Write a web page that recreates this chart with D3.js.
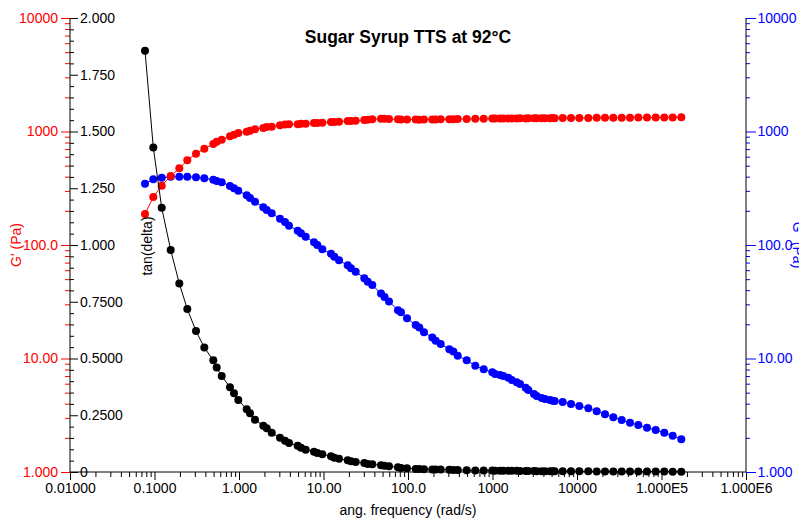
<!DOCTYPE html>
<meta charset="utf-8">
<script src="https://d3js.org/d3.v7.min.js"></script>
<style>
  body { margin: 0; background: #fff; }
  text { font-family: "Liberation Sans", Arial, sans-serif; }
</style>
<body>
<script>
// Chart data
const freq = [0.0772, 0.0968, 0.1217, 0.1555, 0.1966, 0.2444, 0.3098, 0.3885,
  0.4965, 0.5446, 0.6242, 0.7823, 0.8727, 0.981, 1.233, 1.350, 1.546,
  1.939, 2.127, 2.438, 3.057, 3.503, 3.906, 4.952, 5.416, 6.157,
  7.72, 8.447, 9.68, 12.27, 13.42, 15.26, 19.34, 21.16, 24.05,
  30.40, 33.36, 37.80, 47.92, 52.72, 59.60, 76.12, 82.65, 97.3,
  123.3, 136.1, 154.6, 193.9, 212.7, 243.8, 308.2, 343.7, 387.5,
  495.2, 625.9, 786.9, 994.5, 1071, 1227, 1342, 1538, 1687, 1934,
  2116, 2472, 2653, 3098, 3336, 3821, 4182, 4792, 5158, 5447,
  6773, 8492, 10650, 13610, 17110, 21450, 26900, 33810, 42390,
  53140, 67350, 85390, 107900, 135700, 171500];

// G' (Pa)
const gPrime = [187.5, 264.8, 333, 405.5, 474, 557.6, 637.5, 705.5,
  776, 813, 847, 907, 937, 970, 996, 1016, 1046,
  1074, 1095, 1102, 1134, 1152, 1157, 1160, 1168, 1170,
  1188, 1190, 1195, 1213, 1215, 1220, 1237, 1240, 1245,
  1263, 1270, 1281, 1298, 1292, 1289, 1280, 1278, 1276,
  1275, 1272, 1276, 1278, 1275, 1280, 1282, 1280, 1286,
  1290, 1295, 1298, 1300, 1302, 1300, 1304, 1302, 1305, 1303,
  1306, 1305, 1308, 1306, 1310, 1308, 1310, 1309, 1312, 1311,
  1314, 1316, 1317, 1318, 1320, 1321, 1322, 1323, 1325,
  1326, 1327, 1328, 1330, 1331, 1334];

// G'' (Pa)
const gDouble = [346.7, 379, 391.7, 399.7, 399.7, 399.7, 394.9, 387,
  376, 366.4, 356.9, 331, 316, 300.9, 274.1, 259.5, 240.7,
  214.9, 203.4, 190.3, 170.5, 159.4, 147.9, 133.7, 126.8, 118.4,
  105.6, 100, 91.6, 83.8, 78.9, 73.3, 66.2, 62.3, 58.2,
  50.9, 47.5, 44.4, 37.4, 34.8, 31.8, 26.6, 25.5, 22.6,
  19.7, 18.8, 17.0, 15.3, 14.35, 13.4, 12.05, 11.5, 10.6,
  9.64, 8.64, 8.03, 7.56, 7.30, 7.15, 7.01, 6.77, 6.47, 6.17,
  5.96, 5.53, 5.28, 4.87, 4.67, 4.49, 4.40, 4.31, 4.25, 4.22,
  4.14, 3.97, 3.82, 3.64, 3.43, 3.22, 3.03, 2.87, 2.72,
  2.59, 2.46, 2.34, 2.22, 2.09, 1.94];

// tan(delta)
const tanDelta = [1.856, 1.429, 1.164, 0.978, 0.830, 0.718, 0.621, 0.548,
  0.492, 0.460, 0.423, 0.373, 0.347, 0.317, 0.276, 0.259, 0.230,
  0.204, 0.193, 0.173, 0.151, 0.138, 0.128, 0.116, 0.107, 0.098,
  0.0894, 0.0837, 0.078, 0.0692, 0.063, 0.0586, 0.0515, 0.0471, 0.044,
  0.0396, 0.0352, 0.0339, 0.0295, 0.0278, 0.0251, 0.0207, 0.0176, 0.0163,
  0.0132, 0.0128, 0.0121, 0.0115, 0.0110, 0.0105, 0.0097, 0.0093, 0.0088,
  0.0079, 0.0071, 0.0066, 0.0062, 0.0060, 0.0058, 0.0057, 0.0055, 0.0052, 0.0050,
  0.0048, 0.0045, 0.0043, 0.0040, 0.0038, 0.0036, 0.0035, 0.0034, 0.0033, 0.0033,
  0.0032, 0.0031, 0.0030, 0.0028, 0.0026, 0.0025, 0.0023, 0.0022, 0.0021,
  0.0020, 0.0019, 0.0018, 0.0017, 0.0016, 0.0015];

// Tick values and their labels
const xTicks = [0.01, 0.1, 1, 10, 100, 1000, 10000, 1e5, 1e6];
const xTickLabels = ["0.01000", "0.1000", "1.000", "10.00", "100.0", "1000", "10000", "1.000E5", "1.000E6"];
const gTicks = [1, 10, 100, 1000, 10000];
const gTickLabels = ["1.000", "10.00", "100.0", "1000", "10000"];
const tanTicks = [0, 0.25, 0.5, 0.75, 1, 1.25, 1.5, 1.75, 2];
const tanTickLabels = ["0", "0.2500", "0.5000", "0.7500", "1.000", "1.250", "1.500", "1.750", "2.000"];

const margin = {top: 18, right: 53, bottom: 48, left: 70},
      width = 799 - margin.left - margin.right,
      height = 520 - margin.top - margin.bottom;

const svg = d3.select("body")
  .append("svg")
  .attr("width", 799)
  .attr("height", 520)
  .append("g")
  .attr("transform", `translate(${margin.left}, ${margin.top})`);

// Scales
const x = d3.scaleLog().domain([0.01, 1e6]).range([0, width]);
const yG = d3.scaleLog().domain([1, 10000]).range([height, 0]);
const yT = d3.scaleLinear().domain([0, 2]).range([height, 0]);

// minor tick positions for log axes (2..9 in each decade)
function logMinors(lo, hi) {
  let out = [];
  for (let e = lo; e < hi; e++)
    for (let k = 2; k <= 9; k++) out.push(k * Math.pow(10, e));
  return out;
}
const tanMinors = d3.range(0, 2.0001, 0.05).filter(v => Math.abs(v / 0.25 - Math.round(v / 0.25)) > 1e-6);

function styleAxis(g, color) {
  g.select(".domain").remove();
  g.attr("color", color).attr("font-size", 14).attr("font-family", null);
}

// bottom axis
svg.append("g").attr("transform", `translate(0,${height})`)
  .call(d3.axisBottom(x).tickValues(logMinors(-2, 6)).tickSize(5).tickFormat(""))
  .call(g => styleAxis(g, "#000"));
svg.append("g").attr("transform", `translate(0,${height})`)
  .call(d3.axisBottom(x).tickValues(xTicks).tickSize(8).tickPadding(3).tickFormat((d, i) => xTickLabels[i]))
  .call(g => styleAxis(g, "#000"));

// left G' axis (red)
svg.append("g")
  .call(d3.axisLeft(yG).tickValues(logMinors(0, 4)).tickSize(5).tickFormat(""))
  .call(g => styleAxis(g, "#ff0000"));
svg.append("g")
  .call(d3.axisLeft(yG).tickValues(gTicks).tickSize(9).tickPadding(3).tickFormat((d, i) => gTickLabels[i]))
  .call(g => styleAxis(g, "#ff0000"));

// tan(delta) axis on the inside of the left axis
svg.append("g")
  .call(d3.axisRight(yT).tickValues(tanMinors).tickSize(4).tickFormat(""))
  .call(g => styleAxis(g, "#000"));
svg.append("g")
  .call(d3.axisRight(yT).tickValues(tanTicks).tickSize(8).tickPadding(2).tickFormat((d, i) => tanTickLabels[i]))
  .call(g => styleAxis(g, "#000"));

// right G'' axis (blue)
svg.append("g").attr("transform", `translate(${width},0)`)
  .call(d3.axisRight(yG).tickValues(logMinors(0, 4)).tickSize(4).tickFormat(""))
  .call(g => styleAxis(g, "#0000ff"));
svg.append("g").attr("transform", `translate(${width},0)`)
  .call(d3.axisRight(yG).tickValues(gTicks).tickSize(10).tickPadding(1.5).tickFormat((d, i) => gTickLabels[i]))
  .call(g => styleAxis(g, "#0000ff"));

// axis lines
svg.append("line").attr("x1", 0).attr("x2", 0).attr("y1", 0).attr("y2", height).attr("stroke", "#000");
svg.append("line").attr("x1", width).attr("x2", width).attr("y1", 0).attr("y2", height).attr("stroke", "#000");
svg.append("line").attr("x1", 0).attr("x2", width).attr("y1", height).attr("y2", height).attr("stroke", "#000");

// series
const series = [
  {values: gDouble, scale: yG, color: "#0000ff"},
  {values: gPrime, scale: yG, color: "#ff0000"},
  {values: tanDelta, scale: yT, color: "#000000"}
];

series.forEach(s => {
  const pts = freq.map((f, i) => [f, s.values[i]]);
  const line = d3.line().x(d => x(d[0])).y(d => s.scale(d[1]));
  svg.append("path")
    .datum(pts)
    .attr("fill", "none")
    .attr("stroke", s.color)
    .attr("stroke-width", 1)
    .attr("d", line);
  svg.append("g").selectAll("circle")
    .data(pts)
    .enter()
    .append("circle")
    .attr("cx", d => x(d[0]))
    .attr("cy", d => s.scale(d[1]))
    .attr("r", 4)
    .attr("fill", s.color);
});

// title and axis labels
svg.append("text")
  .attr("x", width / 2).attr("y", 25)
  .attr("text-anchor", "middle")
  .attr("font-size", 17.5).attr("font-weight", "bold")
  .text("Sugar Syrup TTS at 92°C");

svg.append("text")
  .attr("x", width / 2).attr("y", height + 43)
  .attr("text-anchor", "middle")
  .attr("font-size", 14)
  .text("ang. frequency (rad/s)");

svg.append("text")
  .attr("transform", `translate(${21 - margin.left}, ${height / 2}) rotate(-90)`)
  .attr("text-anchor", "middle")
  .attr("font-size", 14)
  .attr("fill", "#ff0000")
  .text("G' (Pa)");

svg.append("text")
  .attr("transform", `translate(${152 - margin.left}, ${246 - margin.top}) rotate(-90)`)
  .attr("text-anchor", "middle")
  .attr("font-size", 14)
  .attr("fill", "#000")
  .text("tan(delta)");

// right label runs past the edge of the picture, as in the original
svg.append("text")
  .attr("transform", `translate(${793 - margin.left}, ${height / 2}) rotate(90)`)
  .attr("text-anchor", "middle")
  .attr("font-size", 14)
  .attr("fill", "#0000ff")
  .text("G'' (Pa)");
</script>
</body>
